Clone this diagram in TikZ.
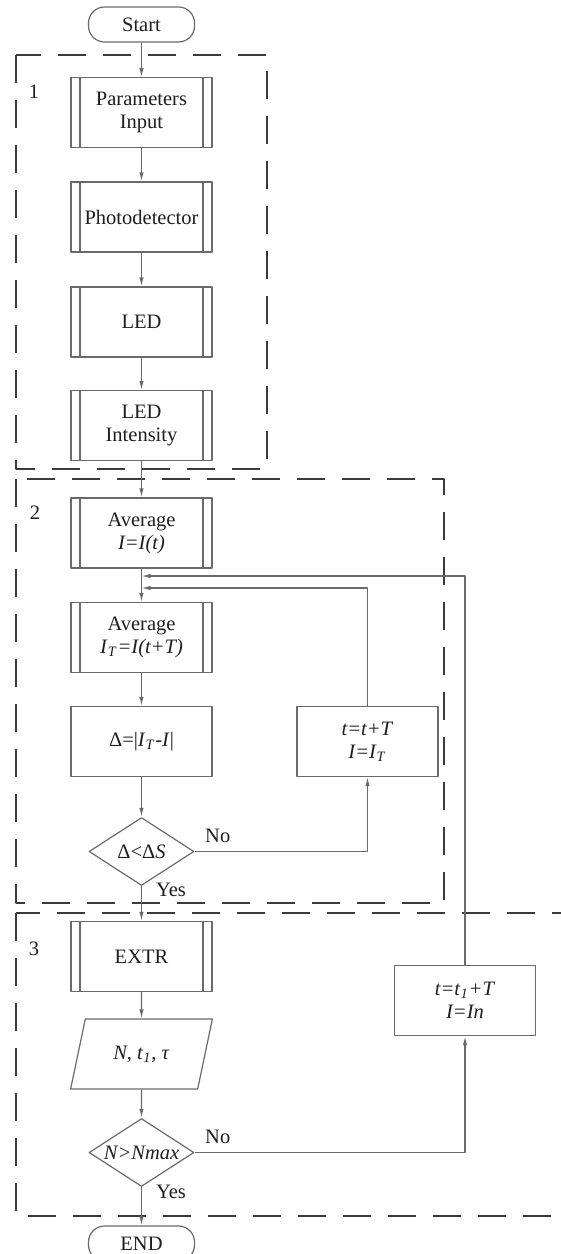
\documentclass[tikz,border=0pt]{standalone}
\usepackage{fontspec}
\setmainfont{Liberation Serif}
\usetikzlibrary{arrows.meta,shapes.geometric}
\definecolor{flowline}{HTML}{6A6A6A}
\definecolor{flowtext}{HTML}{1E1E1E}
\definecolor{groupedge}{HTML}{3A3A3A}
\newcommand{\vsub}[1]{\textsubscript{\textit{#1}}}

\begin{document}
\begin{tikzpicture}[
  x=0.5pt,
  y=-0.5pt,
  line join=round,
  font=\fontsize{10.25}{11.5}\selectfont,
  text=flowtext,
  proc/.style={draw=flowline,line width=0.6pt,minimum width=70.5pt,minimum height=35pt,inner sep=1pt,align=center},
  subr/.style={proc,path picture={
      \draw[flowline,line width=0.6pt]
        ([xshift=4.5pt]path picture bounding box.north west) -- ([xshift=4.5pt]path picture bounding box.south west)
        ([xshift=-4.5pt]path picture bounding box.north east) -- ([xshift=-4.5pt]path picture bounding box.south east);}},
  term/.style={draw=flowline,line width=0.6pt,rounded corners=8pt,minimum width=53pt,minimum height=17.5pt,inner sep=1pt},
  decide/.style={diamond,draw=flowline,line width=0.6pt,minimum width=52.5pt,minimum height=34pt,inner sep=0pt,aspect=1.6},
  inout/.style={trapezium,trapezium left angle=69,trapezium right angle=111,trapezium stretches=true,
    draw=flowline,line width=0.6pt,minimum width=71pt,minimum height=35pt,inner sep=1pt},
  flow/.style={draw=flowline,line width=0.6pt,-{Latex[length=4.5pt,width=2.2pt]}},
  group/.style={draw=groupedge,line width=0.9pt,dash pattern=on 14pt off 8.5pt},
  lbl/.style={inner sep=1pt}
]
  \useasboundingbox (0,0) rectangle (561,1254);

  % Dashed groups 1, 2 and 3; the third runs off the right edge.
  \draw[group] (16,55) rectangle (267,469);
  \draw[group] (16,479) rectangle (444,903);
  \draw[group] (16,913) rectangle (580,1216);
  \node[lbl] (num1) at (34,92) {1};
  \node[lbl] (num2) at (35,513) {2};
  \node[lbl] (num3) at (34,949) {3};

  % Main column.
  \node[term] (start) at (141.5,24.5) {Start};
  \node[subr] (params) at (141.5,112.7) {Parameters\\Input};
  \node[subr] (photo) at (141.5,217) {Photodetector};
  \node[subr] (led) at (141.5,322) {LED};
  \node[subr] (ledint) at (141.5,425.7) {LED\\Intensity};
  \node[subr] (avg1) at (141.5,533) {Average\\\textit{I=I(t)}};
  \node[subr] (avg2) at (141.5,637.5) {Average\\\textit{I}\vsub{T}\textit{=I(t+T)}};
  \node[proc] (delta) at (141.5,741.5) {Δ=|\textit{I}\vsub{T}-\textit{I}|};
  \node[decide] (dec1) at (141.5,851.5) {Δ<Δ\textit{S}};
  \node[subr] (extr) at (141.5,956.5) {EXTR};
  \node[inout] (io) at (141.5,1054) {\textit{N}, \textit{t}\vsub{1}, \textit{τ}};
  \node[decide] (dec2) at (141.5,1152.5) {\textit{N>Nmax}};
  \node[term] (end) at (141.5,1243.5) {END};

  % Loop-back boxes.
  \node[proc] (tloop) at (367.5,741.5) {\textit{t=t+T}\\\textit{I=I}\vsub{T}};
  \node[proc] (tone) at (465,1000.5) {\textit{t=t}\vsub{1}\textit{+T}\\\textit{I=In}};

  % Joins on the line between the two averages.
  \coordinate (j1) at (141.5,576);
  \coordinate (j2) at (141.5,588);

  \draw[flow] (start) -- (params);
  \draw[flow] (params) -- (photo);
  \draw[flow] (photo) -- (led);
  \draw[flow] (led) -- (ledint);
  \draw[flow] (ledint) -- (avg1);
  \draw[flow] (avg1) -- (avg2);
  \draw[flow] (avg2) -- (delta);
  \draw[flow] (delta) -- (dec1);
  \draw[flow] (dec1) -- node[lbl,pos=0.12,right=6pt] {Yes} (extr);
  \draw[flow] (extr) -- (io);
  \draw[flow] (io) -- (dec2);
  \draw[flow] (dec2) -- node[lbl,pos=0.12,right=6pt] {Yes} (end);

  \draw[flow] (dec1.east) -| node[lbl,pos=0,anchor=south west,xshift=4pt,yshift=3pt] {No} (tloop.south);
  \draw[flow] (tloop.north) |- (j2);
  \draw[flow] (dec2.east) -| node[lbl,pos=0,anchor=south west,xshift=4pt,yshift=3pt] {No} (tone.south);
  \draw[flow] (tone.north) |- (j1);
\end{tikzpicture}
\end{document}
